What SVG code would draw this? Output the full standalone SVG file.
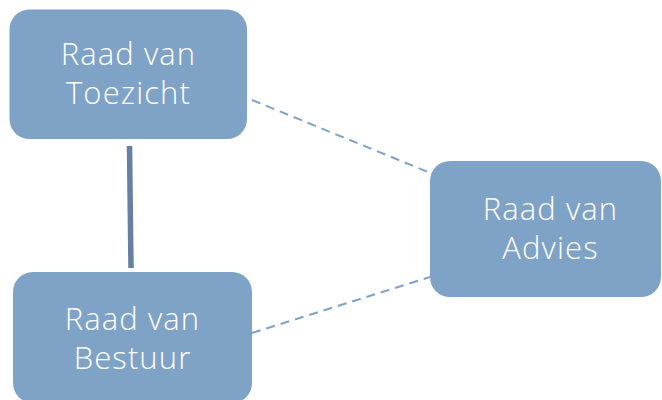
<svg xmlns="http://www.w3.org/2000/svg" width="662" height="400" viewBox="0 0 662 400">
<style>
.box{fill:#7fa2c7;}
.lbl{font-family:"Open Sans","Noto Sans",sans-serif;font-size:31px;font-weight:350;letter-spacing:1.1px;fill:#ffffff;text-anchor:middle;}
.solid{stroke:#6580a2;stroke-width:5.5;fill:none;}
.dash{stroke:#7fa2c7;stroke-width:2;stroke-dasharray:9,6;fill:none;}
</style>
<rect width="662" height="400" fill="#ffffff"/>
<g id="connectors">
<line class="solid" x1="129.5" y1="146" x2="131" y2="268"/>
<line class="dash" x1="252" y1="100" x2="428" y2="172"/>
<line class="dash" x1="252" y1="333" x2="430" y2="277"/>
</g>
<g id="toezicht">
<rect class="box" x="9.5" y="9.5" width="237.5" height="129.5" rx="20"/>
<text class="lbl" x="128.5" y="65">Raad van</text>
<text class="lbl" x="128.5" y="104">Toezicht</text>
</g>
<g id="bestuur">
<rect class="box" x="13" y="272" width="239" height="131" rx="20"/>
<text class="lbl" x="132.5" y="329.5">Raad van</text>
<text class="lbl" x="132.5" y="368.5">Bestuur</text>
</g>
<g id="advies">
<rect class="box" x="430" y="161" width="231" height="136" rx="20"/>
<text class="lbl" x="550.5" y="220">Raad van</text>
<text class="lbl" x="550.5" y="259">Advies</text>
</g>
</svg>
